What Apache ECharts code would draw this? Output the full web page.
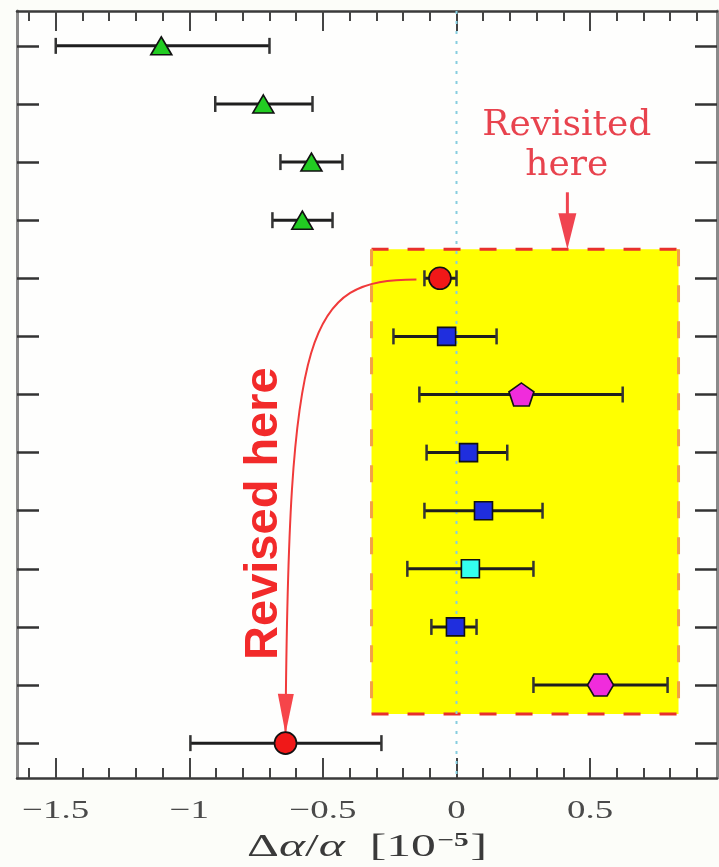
<!DOCTYPE html>
<html>
<head>
<meta charset="utf-8">
<script src="https://cdn.jsdelivr.net/npm/echarts@6/dist/echarts.min.js"></script>
<style>
  html, body { margin: 0; padding: 0; background: #fcfdf9; }
  #chart { width: 719px; height: 867px; }
</style>
</head>
<body>
<div id="chart"></div>
<script>
// Measurements, top row first
const rows    = [1, 2, 3, 4, 5, 6, 7, 8, 9, 10, 11, 12, 13];
const centers = [-1.105, -0.723, -0.543, -0.577, -0.062, -0.037, 0.243, 0.045, 0.101, 0.052, -0.004, 0.539, -0.640];
const lows    = [-1.500, -0.903, -0.659, -0.689, -0.120, -0.236, -0.139, -0.112, -0.120, -0.184, -0.094, 0.288, -0.996];
const highs   = [-0.700, -0.539, -0.427, -0.464, 0.000, 0.150, 0.622, 0.190, 0.322, 0.288, 0.075, 0.790, -0.281];
const kinds   = ['triangle', 'triangle', 'triangle', 'triangle', 'redCircle', 'blueSquare', 'pentagon',
                 'blueSquare', 'blueSquare', 'cyanSquare', 'blueSquare', 'hexagon', 'redCircle'];

// Axes
const xRange = [-1.645, 0.975];
const yRange = [0.4, 13.6];
const xTicksMajor = [-1.5, -1, -0.5, 0, 0.5];
const xTicksMinor = [-1.6, -1.5, -1.4, -1.3, -1.2, -1.1, -1.0, -0.9, -0.8, -0.7, -0.6, -0.5, -0.4, -0.3,
                     -0.2, -0.1, 0, 0.1, 0.2, 0.3, 0.4, 0.5, 0.6, 0.7, 0.8, 0.9];
const xTickLabels = ['\u22121.5', '\u22121', '\u22120.5', '0', '0.5'];

// Highlighted region and annotations (data coordinates)
const boxBounds = [-0.318, 0.831, 4.5, 12.5];
const revisitedLines = ['Revisited', 'here'];
const revisitedAt = [0.413, 2.72];
const revisitedArrow = [0.415, 3.52, 0.415, 4.5];
const revisedLabel = 'Revised here';
const revisedAt = [-0.722, 9.05];
const revisedCurve = [-0.15, 5.02, -0.560, 5.02, -0.628, 5.80, -0.640, 12.84];

const markerStyles = {
  triangle:   { symbol: 'triangle', size: [21, 18], color: '#22cc22' },
  redCircle:  { symbol: 'circle', size: 22, color: '#f01818' },
  blueSquare: { symbol: 'rect', size: 18, color: '#1f2ede' },
  cyanSquare: { symbol: 'rect', size: 18, color: '#33ffee' },
  pentagon:   { symbol: 'path://M0,-1 L0.951,-0.309 L0.588,0.809 L-0.588,0.809 L-0.951,-0.309 Z', size: [25, 23], color: '#f02cdc' },
  hexagon:    { symbol: 'path://M-1,0 L-0.5,-0.866 L0.5,-0.866 L1,0 L0.5,0.866 L-0.5,0.866 Z', size: [26, 22], color: '#f02cdc' }
};

function arrowHead(tip, from, len, halfW) {
  const dx = tip[0] - from[0], dy = tip[1] - from[1];
  const n = Math.sqrt(dx * dx + dy * dy) || 1;
  const ux = dx / n, uy = dy / n;
  const bx = tip[0] - ux * len, by = tip[1] - uy * len;
  return [tip, [bx - uy * halfW, by + ux * halfW], [bx + uy * halfW, by - ux * halfW]];
}

const errData = rows.map((r, i) => [lows[i], highs[i], r]);

const scatterSeries = Object.keys(markerStyles).map(k => {
  const m = markerStyles[k];
  return {
    type: 'scatter', name: k, z: 6,
    symbol: m.symbol, symbolSize: m.size,
    itemStyle: { color: m.color, borderColor: '#111', borderWidth: 1.6, opacity: 1 },
    data: rows.map((r, i) => kinds[i] === k ? [centers[i], r] : null).filter(d => d)
  };
});

const tickFont = '26px "Liberation Serif"';

const option = {
  backgroundColor: '#fcfdf9',
  animation: false,
  grid: { left: 17, right: 2, top: 11, bottom: 89, show: true, backgroundColor: '#fefefd', borderWidth: 0 },
  xAxis: [
    { type: 'value', position: 'bottom', min: xRange[0], max: xRange[1],
      axisLine: { show: true, onZero: false, lineStyle: { color: '#3a3a3a', width: 2.5 } },
      axisTick: { show: true, inside: true, length: 20, customValues: xTicksMajor, lineStyle: { color: '#444', width: 2 } },
      axisLabel: { show: false }, splitLine: { show: false } },
    { type: 'value', position: 'bottom', min: xRange[0], max: xRange[1],
      axisLine: { show: false },
      axisTick: { show: true, inside: true, length: 10, customValues: xTicksMinor, lineStyle: { color: '#444', width: 2 } },
      axisLabel: { show: false }, splitLine: { show: false } },
    { type: 'value', position: 'top', min: xRange[0], max: xRange[1],
      axisLine: { show: true, onZero: false, lineStyle: { color: '#3a3a3a', width: 2.5 } },
      axisTick: { show: true, inside: true, length: 20, customValues: xTicksMajor, lineStyle: { color: '#444', width: 2 } },
      axisLabel: { show: false }, splitLine: { show: false } },
    { type: 'value', position: 'top', min: xRange[0], max: xRange[1],
      axisLine: { show: false },
      axisTick: { show: true, inside: true, length: 10, customValues: xTicksMinor, lineStyle: { color: '#444', width: 2 } },
      axisLabel: { show: false }, splitLine: { show: false } }
  ],
  yAxis: [
    { type: 'value', inverse: true, position: 'left', min: yRange[0], max: yRange[1],
      axisLine: { show: true, onZero: false, lineStyle: { color: '#8a8a8a', width: 3 } },
      axisTick: { show: true, inside: true, length: 22, customValues: rows, lineStyle: { color: '#333', width: 2.5 } },
      axisLabel: { show: false }, splitLine: { show: false } },
    { type: 'value', inverse: true, position: 'right', min: yRange[0], max: yRange[1],
      axisLine: { show: true, onZero: false, lineStyle: { color: '#8a8a8a', width: 3 } },
      axisTick: { show: true, inside: true, length: 22, customValues: rows, lineStyle: { color: '#333', width: 2.5 } },
      axisLabel: { show: false }, splitLine: { show: false } }
  ],
  series: [
    // highlighted region
    { type: 'custom', z: 1, clip: false,
      encode: { x: [0, 1], y: [2, 3] },
      data: [boxBounds],
      renderItem: (params, api) => {
        const a = api.coord([api.value(0), api.value(2)]);
        const b = api.coord([api.value(1), api.value(3)]);
        const dash = [17, 19];
        return { type: 'group', children: [
          { type: 'rect', shape: { x: a[0], y: a[1], width: b[0] - a[0], height: b[1] - a[1] }, style: { fill: '#ffff00' } },
          { type: 'line', shape: { x1: a[0], y1: a[1], x2: b[0], y2: a[1] }, style: { stroke: '#e8302c', lineWidth: 3, lineDash: dash } },
          { type: 'line', shape: { x1: a[0], y1: b[1], x2: b[0], y2: b[1] }, style: { stroke: '#e8302c', lineWidth: 3, lineDash: dash } },
          { type: 'line', shape: { x1: a[0], y1: a[1], x2: a[0], y2: b[1] }, style: { stroke: '#f2a046', lineWidth: 3, lineDash: dash } },
          { type: 'line', shape: { x1: b[0], y1: a[1], x2: b[0], y2: b[1] }, style: { stroke: '#f2a046', lineWidth: 3, lineDash: dash } }
        ] };
      } },
    // zero reference line
    { type: 'line', z: 2, symbol: 'none', silent: true,
      data: [[0, yRange[0]], [0, yRange[1]]],
      lineStyle: { color: '#86cde0', width: 2, type: [3, 7] } },
    // error bars
    { type: 'custom', z: 4,
      encode: { x: [0, 1], y: 2 },
      data: errData,
      renderItem: (params, api) => {
        const lo = api.coord([api.value(0), api.value(2)]);
        const hi = api.coord([api.value(1), api.value(2)]);
        const cap = 8;
        const st = { stroke: '#1e1e1e', lineWidth: 3 };
        return { type: 'group', children: [
          { type: 'line', shape: { x1: lo[0], y1: lo[1], x2: hi[0], y2: hi[1] }, style: st },
          { type: 'line', shape: { x1: lo[0], y1: lo[1] - cap, x2: lo[0], y2: lo[1] + cap }, style: { stroke: '#333', lineWidth: 2.5 } },
          { type: 'line', shape: { x1: hi[0], y1: hi[1] - cap, x2: hi[0], y2: hi[1] + cap }, style: { stroke: '#333', lineWidth: 2.5 } }
        ] };
      } },
    ...scatterSeries,
    // curved arrow with vertical caption
    { type: 'custom', z: 5, clip: false,
      encode: { x: [0, 2, 4, 6], y: [1, 3, 5, 7] },
      data: [revisedCurve],
      renderItem: (params, api) => {
        const p = [0, 1, 2, 3].map(i => api.coord([api.value(2 * i), api.value(2 * i + 1)]));
        const head = arrowHead(p[3], p[2], 40, 8);
        return { type: 'group', children: [
          { type: 'bezierCurve', shape: { x1: p[0][0], y1: p[0][1], cpx1: p[1][0], cpy1: p[1][1], cpx2: p[2][0], cpy2: p[2][1], x2: p[3][0], y2: p[3][1] },
            style: { stroke: '#f03a3a', lineWidth: 2, fill: null } },
          { type: 'polygon', shape: { points: head }, style: { fill: '#f6454a' } }
        ] };
      } },
    { type: 'custom', z: 7, clip: false,
      encode: { x: 0, y: 1 },
      data: [revisedAt],
      renderItem: (params, api) => {
        const c = api.coord([api.value(0), api.value(1)]);
        return { type: 'text', x: c[0], y: c[1], rotation: Math.PI / 2,
          style: { text: revisedLabel, x: 0, y: 0, align: 'center', verticalAlign: 'middle',
                   font: 'bold 47px "Liberation Sans"', fill: '#f22a2a' } };
      } },
    // straight arrow with caption
    { type: 'custom', z: 7, clip: false,
      encode: { x: [0, 2], y: [1, 3] },
      data: [revisitedArrow],
      renderItem: (params, api) => {
        const a = api.coord([api.value(0), api.value(1)]);
        const b = api.coord([api.value(2), api.value(3)]);
        const head = arrowHead(b, a, 36, 9);
        return { type: 'group', children: [
          { type: 'line', shape: { x1: a[0], y1: a[1], x2: b[0], y2: b[1] - 20 }, style: { stroke: '#f04450', lineWidth: 3 } },
          { type: 'polygon', shape: { points: head }, style: { fill: '#f04450' } }
        ] };
      } },
    { type: 'custom', z: 7, clip: false,
      encode: { x: 0, y: 1 },
      data: [revisitedAt],
      renderItem: (params, api) => {
        const c = api.coord([api.value(0), api.value(1)]);
        return { type: 'text', x: c[0], y: c[1],
          style: { text: revisitedLines.join('\n'), x: 0, y: 0, align: 'center', verticalAlign: 'middle',
                   font: '36px "DejaVu Serif"', lineHeight: 40, fill: '#e8434e' } };
      } },
    // x tick labels
    { type: 'custom', z: 7, clip: false,
      encode: { x: 0, y: 1 },
      data: xTicksMajor.map((v, i) => [v, yRange[1], i]),
      renderItem: (params, api) => {
        const c = api.coord([api.value(0), api.value(1)]);
        return { type: 'text', x: c[0], y: c[1] + 33, scaleX: 1.42,
          style: { text: xTickLabels[api.value(2)], x: 0, y: 0, align: 'center', verticalAlign: 'middle',
                   font: tickFont, fill: '#4a4a4a' } };
      } },
    // x axis title
    { type: 'custom', z: 7, clip: false,
      encode: { x: 0, y: 1 },
      data: [[(xRange[0] + xRange[1]) / 2, yRange[1]]],
      renderItem: (params, api) => {
        const c = api.coord([api.value(0), api.value(1)]);
        return { type: 'text', x: c[0], y: c[1] + 70, scaleX: 1.55,
          style: { text: '{a|\u0394}{i|\u03b1}{a|/}{i|\u03b1}{a|  [10}{s|\u22125}{a|]}', x: 0, y: 0, align: 'center', verticalAlign: 'middle',
                   rich: {
                     a: { font: '32px "Liberation Serif"', fill: '#3a3a3a' },
                     i: { font: 'italic 32px "Liberation Serif"', fill: '#3a3a3a' },
                     s: { font: 'bold 19px "Liberation Serif"', fill: '#3a3a3a', verticalAlign: 'top', padding: [0, 1, 12, 1] }
                   } } };
      } }
  ]
};

const chart = echarts.init(document.getElementById('chart'), null, { renderer: 'canvas' });
chart.setOption(option);
</script>
</body>
</html>
